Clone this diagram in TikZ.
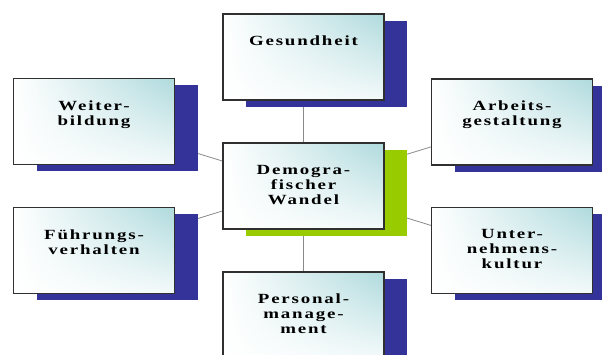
\documentclass[tikz,border=0pt]{standalone}
\usepackage{fontspec}
\setmainfont{Liberation Serif}
\usetikzlibrary{shadows,shadings,backgrounds}
\definecolor{navyshadow}{HTML}{333399}
\definecolor{greenshadow}{HTML}{99CC00}
\definecolor{tealtop}{HTML}{AFDADD}
\definecolor{boxborder}{HTML}{303030}
\definecolor{linkgray}{HTML}{8A8A8A}
\newcommand{\boxtext}[1]{\parbox[c][42pt][t]{160pt}{\centering\fontsize{14}{15}\bfseries\addfontfeatures{FakeStretch=1.35,LetterSpace=13}#1\par}}
\tikzset{
  topicbox/.style={rectangle, draw=boxborder, line width=1.1pt, inner sep=0pt,
    minimum width=161pt, minimum height=86pt,
    upper right=tealtop, upper left=white, lower left=white, lower right=white!85!tealtop, shade,
    drop shadow={shadow xshift=23pt, shadow yshift=-6.5pt, fill=navyshadow, opacity=1}},
  centerbox/.style={rectangle, draw=boxborder, line width=1.1pt, inner sep=0pt,
    minimum width=161pt, minimum height=86pt,
    upper right=tealtop, upper left=white, lower left=white, lower right=white!85!tealtop, shade,
    drop shadow={shadow xshift=23pt, shadow yshift=-6.5pt, fill=greenshadow, opacity=1}},
  link/.style={draw=linkgray, line width=0.8pt}
}
\begin{document}
\begin{tikzpicture}[x=1pt,y=-1pt]
\useasboundingbox (0,0) rectangle (602,354);
\node[centerbox] (dw) at (303.5,186) {\boxtext{Demogra-\\fischer\\Wandel}};
\node[topicbox] (ges) at (303.5,57) {\boxtext{Gesundheit}};
\node[topicbox] (wb) at (94,121.5) {\boxtext{Weiter-\\bildung}};
\node[topicbox] (ag) at (512,122) {\boxtext{Arbeits-\\gestaltung}};
\node[topicbox] (fv) at (94,250.5) {\boxtext{Führungs-\\verhalten}};
\node[topicbox] (uk) at (512,250.5) {\boxtext{Unter-\\nehmens-\\kultur}};
\node[topicbox] (pm) at (303.5,315) {\boxtext{Personal-\\manage-\\ment}};
\begin{scope}[on background layer]
\draw[link] (dw.center) -- (ges.center);
\draw[link] (dw.center) -- (wb.center);
\draw[link] (dw.center) -- (ag.center);
\draw[link] (dw.center) -- (fv.center);
\draw[link] (dw.center) -- (uk.center);
\draw[link] (dw.center) -- (pm.center);
\end{scope}
\end{tikzpicture}
\end{document}
